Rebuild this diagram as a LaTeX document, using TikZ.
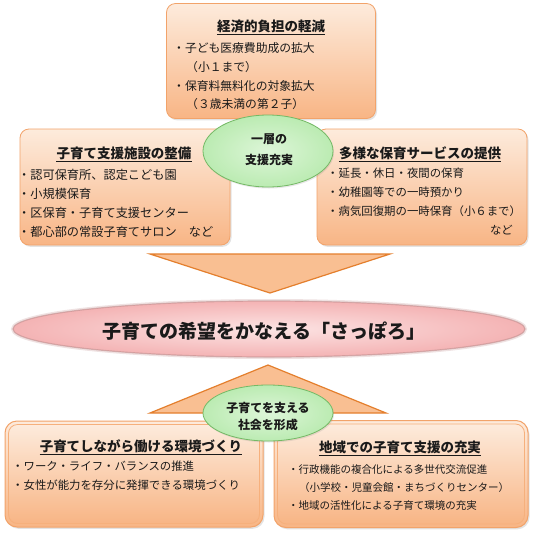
\documentclass[tikz,border=0pt]{standalone}
\usepackage{fontspec}
\setmainfont{Noto Sans CJK JP}
\usetikzlibrary{shadows,shapes.geometric}
\definecolor{boxtop}{HTML}{FDEBDC}
\definecolor{boxbot}{HTML}{F8B585}
\definecolor{boxline}{HTML}{F2A36A}
\definecolor{boxline2}{HTML}{F6B07C}
\definecolor{trifill}{HTML}{F9BF92}
\definecolor{triline}{HTML}{E47F2D}
\definecolor{grfill}{HTML}{BBEBB2}
\definecolor{grlight}{HTML}{DDF6D8}
\definecolor{grline}{HTML}{74B965}
\definecolor{pkout}{HTML}{F4B3B4}
\definecolor{pkin}{HTML}{FCE4E4}
\definecolor{pkline}{HTML}{C08E8E}
\definecolor{txt}{HTML}{1A1A1A}
\begin{document}
\begin{tikzpicture}[x=1pt,y=-1pt,
  box/.style={draw=boxline, line width=0.8pt, rounded corners=9pt,
    top color=boxtop, bottom color=boxbot, inner sep=0pt, outer sep=0pt,
    drop shadow={opacity=0.22,shadow xshift=1.5pt,shadow yshift=-1.8pt}},
  dbox/.style={box, line width=1pt, rounded corners=12pt},
  inbox/.style={draw=boxline2, line width=0.8pt, rounded corners=9pt,
    top color=boxtop, bottom color=boxbot, inner sep=0pt, outer sep=0pt},
  ttl/.style={inner sep=0pt, text=txt, font=\fontsize{13.5}{15}\selectfont\bfseries},
  uline/.style={draw=txt, line width=0.8pt},
  itm/.style={anchor=west, inner sep=0pt, text=txt, font=\fontsize{11.8}{13}\selectfont},
  itml/.style={itm, font=\fontsize{12.2}{13}\selectfont},
  itms/.style={itm, font=\fontsize{11.4}{13}\selectfont},
  itmx/.style={itm, font=\fontsize{10.5}{12}\selectfont},
  tri/.style={draw=triline, line width=1.2pt, fill=trifill, line join=miter},
  gr/.style={ellipse, draw=grline, line width=0.8pt, inner color=grlight, outer color=grfill,
    inner sep=0pt, drop shadow={opacity=0.18,shadow xshift=1pt,shadow yshift=-1.5pt}},
  grtxt/.style={align=center, inner sep=0pt, text=txt, font=\fontsize{12}{21}\selectfont\bfseries},
]
\useasboundingbox[fill=white] (0,0) rectangle (537,542);

% arrows (triangles)
\coordinate (dl) at (150,254); \coordinate (dr) at (390,254); \coordinate (da) at (270,293);
\draw[tri] (dl) -- (dr) -- (da) -- cycle;
\coordinate (ul) at (150,413); \coordinate (ur) at (386,413); \coordinate (ua) at (268,365);
\draw[tri] (ul) -- (ur) -- (ua) -- cycle;

% top box
\node[box, minimum width=209pt, minimum height=115pt] (topbox) at (271,61) {};
\node[ttl] (t1) at (271,26) {経済的負担の軽減};
\draw[uline] ([yshift=-1.5pt]t1.south west) -- ([yshift=-1.5pt]t1.south east);
\node[itm] (t1a) at (173,48) {・子ども医療費助成の拡大};
\node[itm] (t1b) at (186,67) {（小１まで）};
\node[itm] (t1c) at (173,86) {・保育料無料化の対象拡大};
\node[itm] (t1d) at (186,104) {（３歳未満の第２子）};

% left middle box
\node[box, minimum width=210pt, minimum height=116pt] (lbox) at (125,187) {};
\node[ttl] (t2) at (124,153) {子育て支援施設の整備};
\draw[uline] ([yshift=-1.5pt]t2.south west) -- ([yshift=-1.5pt]t2.south east);
\node[itml] (t2a) at (18,175) {・認可保育所、認定こども園};
\node[itml] (t2b) at (18,194) {・小規模保育};
\node[itml] (t2c) at (18,213) {・区保育・子育て支援センター};
\node[itml] (t2d) at (18,232) {・都心部の常設子育てサロン　など};

% right middle box
\node[box, minimum width=210pt, minimum height=116pt] (rbox) at (422,187) {};
\node[ttl] (t3) at (420,153) {多様な保育サービスの提供};
\draw[uline] ([yshift=-1.5pt]t3.south west) -- ([yshift=-1.5pt]t3.south east);
\node[itms] (t3a) at (327,173) {・延長・休日・夜間の保育};
\node[itms] (t3b) at (327,192) {・幼稚園等での一時預かり};
\node[itms] (t3c) at (327,211) {・病気回復期の一時保育（小６まで）};
\node[itms, anchor=east] (t3d) at (513,230) {など};

% green ellipse 1
\node[gr, minimum width=130pt, minimum height=72pt] (g1) at (268,151) {};
\node[grtxt] (g1t) at (269,150) {一層の\\支援充実};

% pink ellipse
\node[ellipse, minimum width=512pt, minimum height=56pt, inner sep=0pt,
  draw=pkline, draw opacity=0.25, line width=4pt] (goal) at (269,329) {};
\node[ellipse, minimum width=512pt, minimum height=56pt, inner sep=0pt,
  inner color=pkin, outer color=pkout, draw=pkline, draw opacity=0.6, line width=1.2pt] (goalin) at (269,329) {};
\node[inner sep=0pt, text=txt, font=\fontsize{19}{21}\selectfont\bfseries] (goalt) at (264,331) {子育ての希望をかなえる「さっぽろ」};

% bottom left box (double border)
\node[dbox, minimum width=258pt, minimum height=106pt] (blbox) at (134,474) {};
\node[inbox, minimum width=251pt, minimum height=99pt] (blin) at (134,474) {};
\node[ttl] (t4) at (141,446) {子育てしながら働ける環境づくり};
\draw[uline] ([yshift=-1.5pt]t4.south west) -- ([yshift=-1.5pt]t4.south east);
\node[itms] (t4a) at (12,466) {・ワーク・ライフ・バランスの推進};
\node[itms] (t4b) at (12,485) {・女性が能力を存分に発揮できる環境づくり};

% bottom right box (double border)
\node[dbox, minimum width=254pt, minimum height=107pt] (brbox) at (401,474) {};
\node[inbox, minimum width=247pt, minimum height=100pt] (brin) at (401,474) {};
\node[ttl] (t5) at (400,447) {地域での子育て支援の充実};
\draw[uline] ([yshift=-1.5pt]t5.south west) -- ([yshift=-1.5pt]t5.south east);
\node[itmx] (t5a) at (288,470) {・行政機能の複合化による多世代交流促進};
\node[itmx] (t5b) at (299,488) {（小学校・児童会館・まちづくりセンター）};
\node[itmx] (t5c) at (288,506) {・地域の活性化による子育て環境の充実};

% green ellipse 2
\node[gr, minimum width=130pt, minimum height=56pt] (g2) at (268,413) {};
\node[grtxt, font=\fontsize{12}{17}\selectfont\bfseries] (g2t) at (268,417) {子育てを支える\\社会を形成};
\end{tikzpicture}
\end{document}
